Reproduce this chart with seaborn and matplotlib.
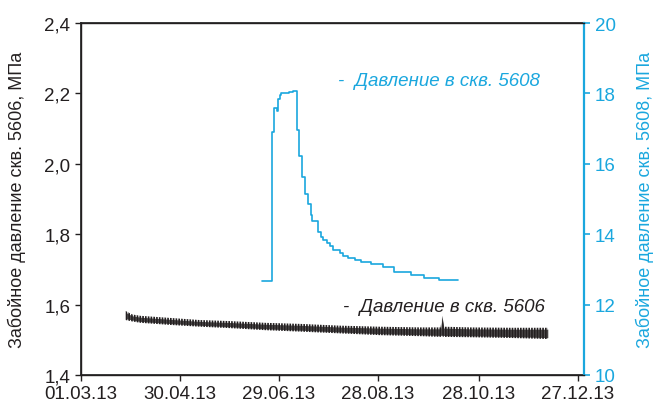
# Bottom-hole pressure, wells 5606 and 5608
import pandas as pd
import matplotlib
matplotlib.use("Agg")
import matplotlib.pyplot as plt
import matplotlib.dates as mdates
from matplotlib.ticker import FuncFormatter
import seaborn as sns

# well 5606 - noisy band, read as upper / lower envelope
dates_5606 = ["2013-03-28", "2013-04-01", "2013-04-06", "2013-04-24", "2013-05-12",
              "2013-05-30", "2013-06-21", "2013-07-12", "2013-08-05", "2013-08-29",
              "2013-09-23", "2013-10-05", "2013-10-06", "2013-10-07", "2013-10-23",
              "2013-11-16", "2013-12-09"]
hi_5606 = [1.582, 1.572, 1.568, 1.562, 1.556, 1.553, 1.548, 1.545, 1.540, 1.537,
           1.535, 1.535, 1.568, 1.537, 1.535, 1.534, 1.534]
lo_5606 = [1.556, 1.552, 1.548, 1.542, 1.537, 1.533, 1.527, 1.523, 1.518, 1.513,
           1.510, 1.508, 1.510, 1.508, 1.507, 1.505, 1.502]

# well 5608 - step record
dates_5608 = ["2013-06-18 19:00", "2013-06-25 02:00", "2013-06-26 07:00", "2013-06-27 17:00",
              "2013-06-28 12:00", "2013-06-29 19:00", "2013-06-30 10:00", "2013-07-02 12:00",
              "2013-07-05 00:00", "2013-07-07 12:00", "2013-07-09 22:00", "2013-07-10 02:00",
              "2013-07-11 12:00", "2013-07-12 22:00", "2013-07-14 22:00", "2013-07-16 19:00",
              "2013-07-18 10:00", "2013-07-19 07:00", "2013-07-22 14:00", "2013-07-24 10:00",
              "2013-07-26 00:00", "2013-07-28 00:00", "2013-07-30 00:00", "2013-08-01 00:00",
              "2013-08-05 00:00", "2013-08-07 00:00", "2013-08-10 00:00", "2013-08-14 00:00",
              "2013-08-18 00:00", "2013-08-24 00:00", "2013-08-31 00:00", "2013-09-07 00:00",
              "2013-09-17 00:00", "2013-09-25 00:00", "2013-10-04 00:00", "2013-10-15 12:00"]
p_5608 = [12.67, 16.9, 17.58, 17.5, 17.85, 17.95, 18.0, 18.02,
          18.04, 18.06, 18.08, 16.96, 16.23, 15.62, 15.15, 14.87,
          14.54, 14.36, 14.07, 13.93, 13.84, 13.74, 13.65, 13.55, 13.47,
          13.37, 13.31, 13.26, 13.2, 13.14, 13.06, 12.93, 12.85, 12.76, 12.70,
          12.70]

tick_dates = ["2013-03-01", "2013-04-30", "2013-06-29", "2013-08-28", "2013-10-28", "2013-12-27"]

df1 = pd.DataFrame({"date": pd.to_datetime(dates_5606), "hi": hi_5606, "lo": lo_5606})
df2 = pd.DataFrame({"date": pd.to_datetime(dates_5608), "p": p_5608})

sns.set_theme(style="white")
plt.rcParams["font.family"] = ["Liberation Sans", "DejaVu Sans"]
plt.rcParams["hatch.linewidth"] = 1.2

dark = "#231f20"
cyan = "#1aa7de"
fig = plt.figure(figsize=(6.63, 4.14), dpi=100)
ax = fig.add_axes([0.122, 0.092, 0.759, 0.850])
ax2 = ax.twinx()

# noisy record drawn as a band of vertical strokes
ax.fill_between(df1["date"], df1["lo"], df1["hi"], facecolor="none",
                edgecolor=dark, hatch="||||||", lw=0)
ax.fill_between(df1["date"], df1["lo"] + 0.004, df1["hi"] - 0.004,
                color=dark, alpha=0.8, lw=0)
sns.lineplot(data=df2, x="date", y="p", ax=ax2, color=cyan, lw=1.2,
             drawstyle="steps-post")

ax.set_xlim(pd.Timestamp("2013-03-01"), pd.Timestamp("2013-12-31"))
ax.set_ylim(1.4, 2.4)
ax2.set_ylim(10, 20)
ax.set_yticks([1.4, 1.6, 1.8, 2.0, 2.2, 2.4])
ax2.set_yticks([10, 12, 14, 16, 18, 20])
ax.yaxis.set_major_formatter(FuncFormatter(lambda v, p: f"{v:.1f}".replace(".", ",")))
ax.set_xticks(pd.to_datetime(tick_dates))
ax.xaxis.set_major_formatter(mdates.DateFormatter("%d.%m.%y"))

ax.set_xlabel("")
ax2.set_xlabel("")
ax.set_ylabel("Забойное давление скв. 5606, МПа", fontsize=13, color=dark)
ax2.set_ylabel("Забойное давление скв. 5608, МПа", fontsize=13, color=cyan)
ax.yaxis.set_label_coords(-0.109, 0.5)
ax2.yaxis.set_label_coords(1.103, 0.5)

for s in ["left", "bottom", "top"]:
    ax2.spines[s].set_color(dark)
    ax2.spines[s].set_linewidth(1.0)
ax2.spines["right"].set_color(cyan)
ax2.spines["right"].set_linewidth(1.6)
ax.spines["right"].set_visible(False)

ax.tick_params(axis="both", which="major", labelsize=13.5, colors=dark,
               direction="out", length=4, width=1, left=True, bottom=True)
ax2.tick_params(axis="y", labelsize=13.5, colors=cyan, direction="out",
                length=4, width=1.2, right=True)

ax.text(0.511, 0.838, "-  Давление в скв. 5608", transform=ax.transAxes,
        fontsize=13.5, style="italic", color=cyan, va="center")
ax.text(0.521, 0.193, "-  Давление в скв. 5606", transform=ax.transAxes,
        fontsize=13.5, style="italic", color=dark, va="center")

fig.savefig("out.png", dpi=100)
